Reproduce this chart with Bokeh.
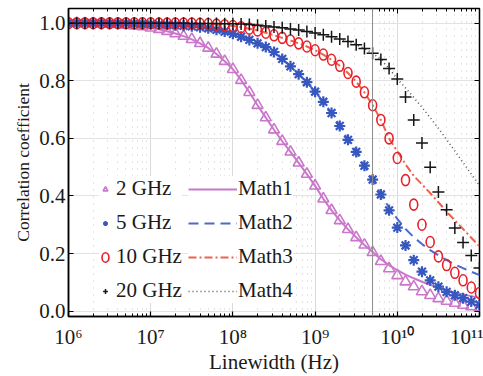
from bokeh.plotting import figure
from bokeh.models import (FixedTicker, LogAxis, LinearAxis, CustomJSTickFormatter,
                          PrintfTickFormatter, Legend, LegendItem, Span, Range1d)
from bokeh.embed import file_html
from bokeh.resources import INLINE

# ---------------- data ----------------
log_linewidth = [6.0, 6.1, 6.2, 6.3, 6.4, 6.5, 6.6, 6.7, 6.8, 6.9,
                 7.0, 7.1, 7.2, 7.3, 7.4, 7.5, 7.6, 7.7, 7.8, 7.9,
                 8.0, 8.1, 8.2, 8.3, 8.4, 8.5, 8.6, 8.7, 8.8, 8.9,
                 9.0, 9.1, 9.2, 9.3, 9.4, 9.5, 9.6, 9.7, 9.8, 9.9,
                 10.0, 10.1, 10.2, 10.3, 10.4, 10.5, 10.6, 10.7, 10.8, 10.9, 11.0]

corr_2ghz = [1.000, 1.000, 0.999, 0.999, 0.998, 0.997, 0.996, 0.994, 0.991, 0.988,
             0.984, 0.979, 0.972, 0.964, 0.955, 0.944, 0.930, 0.914, 0.893, 0.868,
             0.840, 0.802, 0.760, 0.715, 0.672, 0.630, 0.590, 0.553, 0.515, 0.476,
             0.435, 0.390, 0.350, 0.315, 0.284, 0.256, 0.230, 0.204, 0.173, 0.148,
             0.124, 0.102, 0.085, 0.068, 0.055, 0.044, 0.035, 0.028, 0.021, 0.016, 0.012]

corr_5ghz = [1.000, 1.000, 1.000, 1.000, 1.000, 0.999, 0.999, 0.999, 0.998, 0.998,
             0.997, 0.996, 0.995, 0.993, 0.991, 0.989, 0.986, 0.982, 0.977, 0.971,
             0.963, 0.953, 0.942, 0.930, 0.917, 0.900, 0.876, 0.850, 0.823, 0.795,
             0.762, 0.727, 0.688, 0.643, 0.595, 0.553, 0.505, 0.457, 0.405, 0.350,
             0.290, 0.228, 0.177, 0.137, 0.107, 0.085, 0.067, 0.055, 0.045, 0.033, 0.022]

corr_10ghz = [1.000, 1.000, 1.000, 1.000, 1.000, 1.000, 1.000, 1.000, 1.000, 1.000,
              1.000, 0.999, 0.999, 0.999, 0.999, 0.999, 0.998, 0.997, 0.995, 0.993,
              0.990, 0.986, 0.981, 0.975, 0.967, 0.958, 0.949, 0.940, 0.930, 0.919,
              0.906, 0.891, 0.873, 0.852, 0.827, 0.797, 0.760, 0.715, 0.664, 0.600,
              0.532, 0.455, 0.370, 0.300, 0.240, 0.190, 0.160, 0.133, 0.107, 0.082, 0.063]

corr_20ghz = [1.000, 1.000, 1.000, 1.000, 1.000, 1.000, 1.000, 1.000, 1.000, 1.000,
              1.000, 1.000, 1.000, 1.000, 1.000, 0.999, 0.999, 0.999, 0.999, 0.998,
              0.998, 0.997, 0.995, 0.993, 0.990, 0.987, 0.984, 0.980, 0.976, 0.971,
              0.966, 0.960, 0.953, 0.945, 0.936, 0.925, 0.912, 0.896, 0.874, 0.843,
              0.806, 0.744, 0.664, 0.584, 0.500, 0.414, 0.352, 0.289, 0.238, 0.193, 0.150]

math1 = [1.000, 1.000, 0.999, 0.999, 0.998, 0.997, 0.996, 0.994, 0.991, 0.988,
         0.984, 0.979, 0.972, 0.964, 0.955, 0.944, 0.930, 0.914, 0.893, 0.868,
         0.840, 0.802, 0.760, 0.715, 0.672, 0.630, 0.590, 0.553, 0.515, 0.476,
         0.435, 0.390, 0.350, 0.315, 0.284, 0.256, 0.230, 0.205, 0.180, 0.160,
         0.142, 0.127, 0.114, 0.102, 0.091, 0.081, 0.072, 0.065, 0.058, 0.052, 0.046]

math2 = [1.000, 1.000, 1.000, 1.000, 1.000, 0.999, 0.999, 0.999, 0.998, 0.998,
         0.997, 0.996, 0.995, 0.993, 0.991, 0.989, 0.986, 0.982, 0.977, 0.971,
         0.963, 0.953, 0.942, 0.930, 0.917, 0.900, 0.876, 0.850, 0.823, 0.795,
         0.762, 0.727, 0.688, 0.643, 0.595, 0.553, 0.505, 0.457, 0.405, 0.360,
         0.320, 0.285, 0.257, 0.233, 0.212, 0.194, 0.177, 0.162, 0.149, 0.137, 0.125]

math3 = [1.000, 1.000, 1.000, 1.000, 1.000, 1.000, 1.000, 1.000, 1.000, 1.000,
         1.000, 0.999, 0.999, 0.999, 0.999, 0.999, 0.998, 0.997, 0.995, 0.993,
         0.990, 0.986, 0.981, 0.975, 0.967, 0.958, 0.949, 0.940, 0.930, 0.919,
         0.906, 0.891, 0.873, 0.852, 0.827, 0.797, 0.760, 0.715, 0.664, 0.600,
         0.555, 0.510, 0.470, 0.440, 0.410, 0.378, 0.345, 0.315, 0.285, 0.255, 0.225]

math4 = [1.000, 1.000, 1.000, 1.000, 1.000, 1.000, 1.000, 1.000, 1.000, 1.000,
         1.000, 1.000, 1.000, 1.000, 1.000, 0.999, 0.999, 0.999, 0.999, 0.998,
         0.998, 0.997, 0.995, 0.993, 0.990, 0.987, 0.984, 0.980, 0.976, 0.971,
         0.966, 0.960, 0.953, 0.945, 0.936, 0.925, 0.912, 0.896, 0.874, 0.843,
         0.806, 0.775, 0.742, 0.708, 0.672, 0.635, 0.596, 0.556, 0.516, 0.476, 0.436]

marker_labels = ["2 GHz", "5 GHz", "10 GHz", "20 GHz"]
line_labels = ["Math1", "Math2", "Math3", "Math4"]
x_major_exponents = [6, 7, 8, 9, 10, 11]
y_major_ticks = [0.0, 0.2, 0.4, 0.6, 0.8, 1.0]
reference_line_hz = 5e9

# ---------------- styles ----------------
FONT = "Liberation Serif"
C_2 = "#c978c9"
C_5 = "#3656c0"
C_10 = "#e8202a"
C_20 = "#151515"
C_M1 = "#c978c9"
C_M2 = "#4a6ad0"
C_M3 = "#f0604a"
C_M4 = "#555555"

x = [10 ** e for e in log_linewidth]

p = figure(width=483, height=376, x_axis_type="log",
           x_range=Range1d(1e6, 1e11), y_range=Range1d(-0.0187, 1.051),
           output_backend="svg", toolbar_location=None,
           min_border_left=68, min_border_right=4, min_border_top=8, min_border_bottom=54)
p.background_fill_color = "white"
p.border_fill_color = "white"
p.outline_line_color = "black"
p.outline_line_width = 1.5

major_x = [10 ** k for k in x_major_exponents]
minor_x = [m * 10 ** k for k in x_major_exponents[:-1] for m in range(2, 10)]
xticker = FixedTicker(ticks=major_x, minor_ticks=minor_x)
yticker = FixedTicker(ticks=y_major_ticks, minor_ticks=[])

sup_code = """
const sup = {"0":"\u2070","1":"\u00b9","2":"\u00b2","3":"\u00b3","4":"\u2074",
             "5":"\u2075","6":"\u2076","7":"\u2077","8":"\u2078","9":"\u2079"};
const e = Math.round(Math.log10(tick)).toString();
return "10" + e.split("").map(c => sup[c]).join("");
"""

xa = p.xaxis[0]
xa.ticker = xticker
xa.formatter = CustomJSTickFormatter(code=sup_code)
ya = p.yaxis[0]
ya.ticker = yticker
ya.formatter = PrintfTickFormatter(format="%.1f")

for ax in (xa, ya):
    ax.major_tick_in = 5
    ax.major_tick_out = 0
    ax.minor_tick_in = 3
    ax.minor_tick_out = 0
    ax.major_tick_line_color = "black"
    ax.minor_tick_line_color = "black"
    ax.major_tick_line_width = 1.2
    ax.axis_line_color = "black"
    ax.axis_line_width = 1.5
    ax.major_label_text_font = FONT
    ax.major_label_text_font_size = "21px"
    ax.major_label_text_color = "#1a1a1a"
    ax.axis_label_text_font = FONT
    ax.axis_label_text_font_style = "normal"
    ax.axis_label_text_color = "#1a1a1a"

xa.axis_label = "Linewidth (Hz)"
xa.axis_label_text_font_size = "21px"
xa.major_label_standoff = 8
xa.axis_label_standoff = -2
ya.axis_label = "Correlation coefficient"
ya.axis_label_text_font_size = "17.5px"
ya.major_label_standoff = 3
ya.axis_label_standoff = 3

top = LogAxis(ticker=xticker, formatter=CustomJSTickFormatter(code="return '';"))
right = LinearAxis(ticker=yticker, formatter=CustomJSTickFormatter(code="return '';"))
for ax in (top, right):
    ax.major_tick_in = 5
    ax.major_tick_out = 0
    ax.minor_tick_in = 3
    ax.minor_tick_out = 0
    ax.major_tick_line_color = "black"
    ax.minor_tick_line_color = "black"
    ax.axis_line_color = None
    ax.major_label_text_font_size = "1px"
    ax.major_label_standoff = 0
p.add_layout(top, "above")
p.add_layout(right, "right")

p.xgrid.ticker = xticker
p.xgrid.grid_line_color = "#dadada"
p.xgrid.minor_grid_line_color = "#c8c8c8"
p.xgrid.minor_grid_line_dash = "1 6"
p.ygrid.ticker = yticker
p.ygrid.grid_line_color = "#e2e2e2"

p.add_layout(Span(location=reference_line_hz, dimension="height",
                  line_color="#8a8a8a", line_width=1))

# lines
l1 = p.line(x, math1, line_color=C_M1, line_width=2)
l2 = p.line(x, math2, line_color=C_M2, line_width=2, line_dash="10 6")
l3 = p.line(x, math3, line_color=C_M3, line_width=2, line_dash="8 3 2 3")
l4 = p.line(x, math4, line_color=C_M4, line_width=1.6, line_dash="1 3")

# markers
r2 = p.scatter(x, corr_2ghz, marker="triangle", size=11, fill_color=None,
               line_color=C_2, line_width=1.6)
r5 = p.scatter(x, corr_5ghz, marker="asterisk", size=11, line_color=C_5, line_width=2.2)
r10 = p.ellipse(x=x, y=corr_10ghz, width=8, height=11, width_units="screen",
                height_units="screen", fill_color=None, line_color=C_10, line_width=1.6)
r20 = p.scatter(x, corr_20ghz, marker="cross", size=12, line_color=C_20, line_width=1.5)

common = dict(padding=0, margin=0, border_line_color=None,
              background_fill_color="white", background_fill_alpha=1.0,
              label_text_font=FONT, label_text_font_size="21px",
              label_text_color="#1a1a1a", label_height=20, glyph_height=20, spacing=9)

leg1 = Legend(items=[LegendItem(label=lab, renderers=[r]) for lab, r in
                     zip(marker_labels, [r2, r5, r10, r20])],
              location=(31, 13), glyph_width=12, label_standoff=5, **common)
leg2 = Legend(items=[LegendItem(label=lab, renderers=[r]) for lab, r in
                     zip(line_labels, [l1, l2, l3, l4])],
              location=(120, 13), glyph_width=49, label_standoff=1, **common)
p.add_layout(leg1)
p.add_layout(leg2)

open("out.html", "w").write(file_html(p, INLINE))
